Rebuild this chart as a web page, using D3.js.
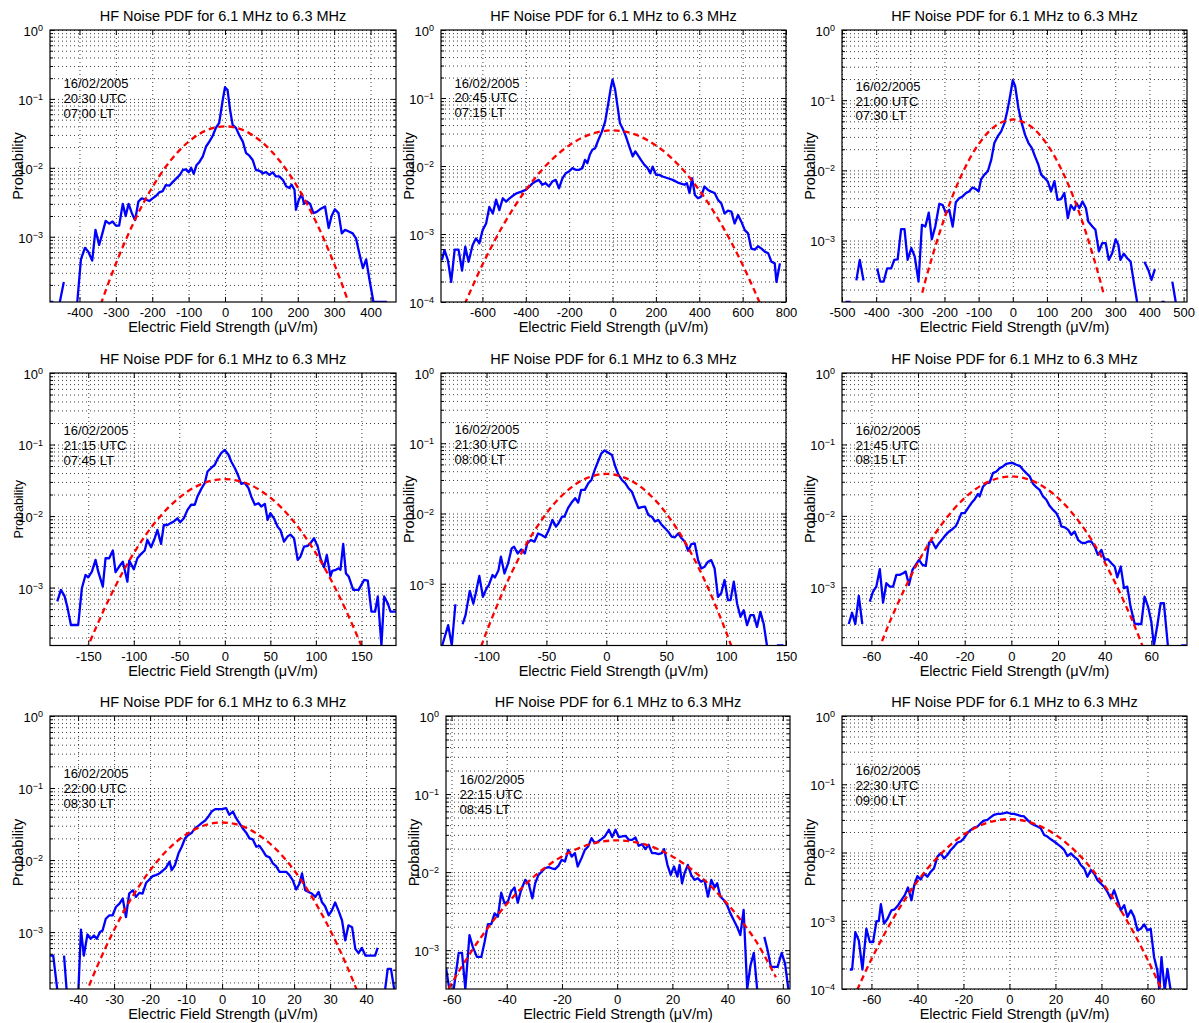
<!DOCTYPE html>
<html>
<head>
<meta charset="utf-8">
<script src="https://cdn.jsdelivr.net/npm/d3@7"></script>
<style>
  body { margin: 0; background: #fff; }
  svg text { font-family: "Liberation Sans", Arial, Helvetica, sans-serif; fill: #000; }
</style>
</head>
<body>
<svg id="fig" width="1199" height="1023"></svg>
<script>
// ---- Labels -------------------------------------------------------------
const chartTitle = "HF Noise PDF for 6.1 MHz to 6.3 MHz";
const xAxisLabel = "Electric Field Strength (\u03bcV/m)";
const yAxisLabel = "Probability";
const obsDate = "16/02/2005";
const utcTimes = ["20:30 UTC", "20:45 UTC", "21:00 UTC", "21:15 UTC", "21:30 UTC", "21:45 UTC", "22:00 UTC", "22:15 UTC", "22:30 UTC"];
const localTimes = ["07:00 LT", "07:15 LT", "07:30 LT", "07:45 LT", "08:00 LT", "08:15 LT", "08:30 LT", "08:45 LT", "09:00 LT"];

// ---- Axis limits and ticks (field strength in uV/m, probability) ---------
const xLimits = [[-481, 470], [-791, 800], [-500, 510], [-192, 188], [-138, 150], [-72.6, 75.3], [-47.8, 48.3], [-62, 62.6], [-72.8, 77.2]];
const yLowerLimits = [1.13e-4, 1e-4, 1.33e-4, 1.55e-4, 1.32e-4, 1.53e-4, 1.62e-4, 3.18e-4, 1e-4];
const xTickValues = [
  [-400, -300, -200, -100, 0, 100, 200, 300, 400],
  [-600, -400, -200, 0, 200, 400, 600, 800],
  [-500, -400, -300, -200, -100, 0, 100, 200, 300, 400, 500],
  [-150, -100, -50, 0, 50, 100, 150],
  [-100, -50, 0, 50, 100, 150],
  [-60, -40, -20, 0, 20, 40, 60],
  [-40, -30, -20, -10, 0, 10, 20, 30, 40],
  [-60, -40, -20, 0, 20, 40, 60],
  [-60, -40, -20, 0, 20, 40, 60]
];

// ---- Measured noise PDFs: [field strength, probability]; null = empty bin --
const pdf2030 = [[-481,1.13e-4],[-472,1.13e-4],[-463,null],[-454,1.13e-4],[-443,2.2e-4],[-434,null],[-425,null],[-415,null],[-406,1.13e-4],[-396,4.7e-4],[-385,6.9e-4],[-376,6.1e-4],[-365,4.5e-4],[-356,1.26e-3],[-346,7.6e-4],[-337,1.12e-3],[-328,1.7e-3],[-318,1.55e-3],[-309,1.66e-3],[-300,1.45e-3],[-291,1.45e-3],[-281,3.0e-3],[-273,2.0e-3],[-265,3.0e-3],[-256,2.2e-3],[-247,1.74e-3],[-238,3.25e-3],[-229,3.6e-3],[-220,3.5e-3],[-208,3.3e-3],[-199,3.6e-3],[-190,3.9e-3],[-181,4.4e-3],[-171,4.6e-3],[-163,5.6e-3],[-153,5.5e-3],[-144,6.2e-3],[-135,6.9e-3],[-124,7.9e-3],[-116,9.3e-3],[-107,9.5e-3],[-100,8.6e-3],[-93,1.0e-2],[-86,8.2e-3],[-78,1.1e-2],[-71,1.2e-2],[-61,1.47e-2],[-52,2.04e-2],[-43,2.4e-2],[-34,2.9e-2],[-25,3.8e-2],[-16,4.5e-2],[-6,9.8e-2],[0,0.148],[7,0.135],[14,6.9e-2],[21,4.2e-2],[30,3.8e-2],[39,3.0e-2],[49,2.4e-2],[58,1.63e-2],[67,1.5e-2],[76,1.3e-2],[85,9.3e-3],[94,9.1e-3],[104,8.3e-3],[113,8.7e-3],[122,7.9e-3],[131,8.6e-3],[140,7.5e-3],[149,7.5e-3],[159,6.7e-3],[168,5.4e-3],[177,5.1e-3],[183,5.7e-3],[191,4.8e-3],[195,2.46e-3],[203,3.45e-3],[211,4.2e-3],[217,3.0e-3],[225,3.25e-3],[234,3.0e-3],[243,2.2e-3],[252,2.3e-3],[261,2.5e-3],[275,2.75e-3],[285,1.34e-3],[293,2.0e-3],[302,2.5e-3],[312,2.2e-3],[321,1.12e-3],[330,1.26e-3],[339,1.2e-3],[351,1.12e-3],[360,9.5e-4],[369,5.8e-4],[379,3.5e-4],[388,4.7e-4],[397,2.4e-4],[408,1.13e-4],[417,1.13e-4],[426,1.13e-4],[435,1.13e-4],[445,1.13e-4]];

const pdf2045 = [[-787,4.1e-4],[-775,5.8e-4],[-759,4.1e-4],[-744,1.97e-4],[-728,5.9e-4],[-710,5.9e-4],[-694,2.9e-4],[-679,6.5e-4],[-664,3.9e-4],[-645,6.9e-4],[-630,8.6e-4],[-614,7.3e-4],[-599,1.14e-3],[-583,1.43e-3],[-568,2.5e-3],[-552,2.0e-3],[-537,3.2e-3],[-522,2.25e-3],[-506,3.35e-3],[-491,3.0e-3],[-475,3.35e-3],[-455,3.75e-3],[-440,4.0e-3],[-420,4.2e-3],[-401,4.45e-3],[-386,4.9e-3],[-370,5.5e-3],[-355,5.9e-3],[-340,6.25e-3],[-324,5.3e-3],[-309,5.6e-3],[-293,5.0e-3],[-278,5.9e-3],[-262,6.25e-3],[-247,4.7e-3],[-231,6.6e-3],[-216,7.8e-3],[-201,8.3e-3],[-185,9.3e-3],[-170,8.8e-3],[-154,8.8e-3],[-139,9.3e-3],[-127,1.23e-2],[-116,1.1e-2],[-105,1.46e-2],[-93,1.73e-2],[-80,1.83e-2],[-65,2.43e-2],[-49,3.2e-2],[-34,4.5e-2],[-19,8.5e-2],[-8,0.141],[0,0.187],[12,0.133],[23,7.6e-2],[34,4.3e-2],[46,3.6e-2],[62,2.7e-2],[77,1.94e-2],[93,1.38e-2],[105,1.64e-2],[116,1.46e-2],[131,1.23e-2],[147,1.04e-2],[162,9.3e-3],[174,7.8e-3],[185,9.8e-3],[201,7.4e-3],[216,7.4e-3],[231,7.0e-3],[255,6.6e-3],[278,6.25e-3],[301,5.7e-3],[316,5.5e-3],[332,5.3e-3],[343,5.6e-3],[355,4.0e-3],[367,6.6e-3],[380,3.75e-3],[394,3.35e-3],[409,3.55e-3],[424,5.0e-3],[440,4.45e-3],[455,4.2e-3],[471,4.0e-3],[486,3.2e-3],[502,2.8e-3],[517,2.0e-3],[532,2.2e-3],[548,2.13e-3],[563,1.43e-3],[579,1.9e-3],[594,1.52e-3],[610,1.14e-3],[625,1.02e-3],[640,6.1e-4],[656,5.9e-4],[671,6.6e-4],[687,6.1e-4],[702,5.5e-4],[718,5.2e-4],[733,3.9e-4],[748,3.7e-4],[756,1.97e-4],[772,3.7e-4]];

const pdf2100 = [[-490,1.33e-4],[-475,1.33e-4],[-466,null],[-458,2.7e-4],[-448,5.3e-4],[-437,2.7e-4],[-427,null],[-417,null],[-407,null],[-397,4.0e-4],[-388,2.6e-4],[-378,2.6e-4],[-368,4.0e-4],[-356,4.0e-4],[-347,5.3e-4],[-337,5.4e-4],[-327,1.45e-3],[-317,1.45e-3],[-308,5.3e-4],[-297,7.8e-4],[-287,5.9e-4],[-276,2.6e-4],[-266,1.67e-3],[-256,1.58e-3],[-246,2.5e-3],[-237,1.04e-3],[-227,1.58e-3],[-215,3.34e-3],[-205,3.2e-3],[-196,2.46e-3],[-186,2.74e-3],[-176,1.58e-3],[-167,3.5e-3],[-157,4.0e-3],[-147,4.25e-3],[-137,4.75e-3],[-128,5.0e-3],[-118,5.7e-3],[-108,5.4e-3],[-100,5.0e-3],[-93,7.4e-3],[-83,8.7e-3],[-73,9.7e-3],[-63,1.42e-2],[-54,2.45e-2],[-44,3.06e-2],[-34,3.6e-2],[-24,4.75e-2],[-15,7.4e-2],[-8,0.114],[0,0.193],[7,0.158],[17,7.4e-2],[26,4.75e-2],[36,3.2e-2],[46,2.45e-2],[56,2.08e-2],[65,1.58e-2],[75,1.2e-2],[83,8.7e-3],[93,7.8e-3],[102,7.0e-3],[112,5.0e-3],[122,7.0e-3],[131,3.8e-3],[141,3.9e-3],[151,4.75e-3],[161,2.08e-3],[170,3.2e-3],[180,2.74e-3],[187,3.4e-3],[195,2.9e-3],[204,3.6e-3],[214,2.9e-3],[221,1.87e-3],[233,1.58e-3],[242,1.42e-3],[252,7.0e-4],[262,9.2e-4],[272,9.2e-4],[281,5.3e-4],[291,6.6e-4],[301,1.04e-3],[309,8.7e-4],[315,5.3e-4],[325,6.5e-4],[335,5.6e-4],[345,5.0e-4],[354,2.6e-4],[364,1.33e-4],[374,null],[385,5.0e-4],[396,3.9e-4],[406,2.74e-4],[416,3.9e-4],[426,null],[435,1.33e-4],[445,1.33e-4],[456,null],[467,2.6e-4],[477,1.33e-4]];

const pdf2115 = [[-184,6.4e-4],[-180,9.3e-4],[-176,7.6e-4],[-173,5.4e-4],[-169,3.0e-4],[-165,3.0e-4],[-161,3.0e-4],[-157,9.8e-4],[-153,1.5e-3],[-150,1.39e-3],[-146,1.67e-3],[-142,2.44e-3],[-139,1.67e-3],[-134,1.03e-3],[-131,2.57e-3],[-127,2.57e-3],[-123,3.3e-3],[-120,1.64e-3],[-116,1.97e-3],[-112,2.3e-3],[-107,1.21e-3],[-105,2.38e-3],[-100,1.8e-3],[-96,2.57e-3],[-93,2.86e-3],[-88,3.3e-3],[-85,4.64e-3],[-81,3.66e-3],[-77,4.9e-3],[-74,6.4e-3],[-70,4.08e-3],[-67,7.5e-3],[-63,7.5e-3],[-60,7.9e-3],[-56,8.4e-3],[-52,9.3e-3],[-49,8.2e-3],[-45,9.3e-3],[-41,1.22e-2],[-37,1.44e-2],[-33,1.44e-2],[-30,1.88e-2],[-26,2.38e-2],[-22,2.9e-2],[-19,4.2e-2],[-15,4.7e-2],[-11,5.2e-2],[-8,6.3e-2],[-4,7.6e-2],[0,8.4e-2],[4,7.2e-2],[7,5.8e-2],[11,4.7e-2],[15,3.6e-2],[18,2.82e-2],[22,2.9e-2],[26,2.46e-2],[29,1.88e-2],[33,1.44e-2],[37,1.51e-2],[40,1.36e-2],[44,1.48e-2],[47,8.85e-3],[50,1.1e-2],[54,9.3e-3],[58,7.1e-3],[61,6.4e-3],[65,4.4e-3],[69,5.2e-3],[72,5.5e-3],[76,4.9e-3],[80,2.44e-3],[83,2.7e-3],[87,3.74e-3],[91,3.83e-3],[94,4.17e-3],[98,4.9e-3],[102,3.74e-3],[105,2.57e-3],[109,1.92e-3],[112,2.86e-3],[116,1.43e-3],[118,1.71e-3],[122,1.77e-3],[125,1.86e-3],[127,1.77e-3],[130,4.08e-3],[133,1.58e-3],[136,1.43e-3],[141,9.3e-4],[147,9.3e-4],[153,1.28e-3],[157,1.25e-3],[161,4.6e-4],[165,4.6e-4],[168,7.5e-4],[172,1.55e-4],[175,7.5e-4],[179,6.0e-4],[182,4.6e-4],[188,4.6e-4]];

const pdf2130 = [[-137,1.32e-4],[-132,2.57e-4],[-129,1.32e-4],[-126,5.1e-4],[-123,null],[-120,2.65e-4],[-117.5,3.57e-4],[-114,7.9e-4],[-111,5.2e-4],[-109,7.3e-4],[-106,1.29e-3],[-103,6.5e-4],[-100,8.6e-4],[-98,9.6e-4],[-95,1.33e-3],[-93,1.23e-3],[-90,1.56e-3],[-88,2.43e-3],[-85,1.4e-3],[-82,1.95e-3],[-79,3.19e-3],[-77,3.37e-3],[-74,2.7e-3],[-71,3.08e-3],[-68,2.7e-3],[-66,3.76e-3],[-63,4.19e-3],[-60,3.97e-3],[-57,5.2e-3],[-54,4.94e-3],[-51,4.57e-3],[-48,5.8e-3],[-45,8.1e-3],[-42,6.5e-3],[-40,7.2e-3],[-37,9.0e-3],[-35,9.0e-3],[-32,1.19e-2],[-29,1.43e-2],[-26,1.65e-2],[-23.5,1.43e-2],[-21,2.17e-2],[-18,2.17e-2],[-15,2.7e-2],[-12.4,3.0e-2],[-9.7,4.18e-2],[-6.9,5.5e-2],[-4.1,7.2e-2],[-1.4,7.9e-2],[1.4,7.4e-2],[4.7,6.8e-2],[7.5,4.67e-2],[10.2,3.55e-2],[13,3.0e-2],[15.8,2.7e-2],[18.5,2.29e-2],[21.3,2.05e-2],[24,1.56e-2],[26.8,1.19e-2],[29.6,1.23e-2],[32.3,1.25e-2],[35.1,9.5e-3],[37.9,9.0e-3],[40.6,7.7e-3],[43.4,8.1e-3],[46.2,6.9e-3],[48.9,6.2e-3],[51.7,5.5e-3],[54.5,4.68e-3],[57.2,4.57e-3],[60,5.2e-3],[62.8,4.43e-3],[65.5,3.97e-3],[68.3,2.95e-3],[71,3.67e-3],[73.8,3.76e-3],[76.6,2.17e-3],[79.3,1.65e-3],[82.1,1.75e-3],[84.9,2.06e-3],[87.6,2.17e-3],[90.4,1.65e-3],[93.2,6.5e-4],[95.9,7.3e-4],[98.7,1.13e-3],[101.5,5.85e-4],[103.7,5.85e-4],[106.4,1.07e-3],[109.2,5.2e-4],[112,3.38e-4],[114.7,4.2e-4],[117.5,2.57e-4],[120.3,3.57e-4],[123,3.57e-4],[125.8,2.43e-4],[128.6,3.98e-4],[131.3,2.72e-4],[134.1,1.32e-4],[136.9,null],[139.6,null],[142.4,1.32e-4],[145.2,1.32e-4],[148,1.32e-4]];

const pdf2145 = [[-69.7,3.06e-4],[-68.3,4.4e-4],[-66.9,3.06e-4],[-65.4,7.6e-4],[-63.9,3.06e-4],[-62.3,null],[-60.7,6.3e-4],[-59.3,8.7e-4],[-57.9,1.02e-3],[-56.4,1.79e-3],[-55,6.1e-4],[-53.6,1.14e-3],[-52.1,1.02e-3],[-50.7,1.02e-3],[-49.3,1.49e-3],[-47.9,1.49e-3],[-46.4,1.57e-3],[-45.3,1.66e-3],[-43.9,1.08e-3],[-42.4,1.75e-3],[-41,2.06e-3],[-39.6,2.42e-3],[-38.1,2.06e-3],[-36.7,1.99e-3],[-35.3,4.23e-3],[-33.9,4.37e-3],[-32.4,3.52e-3],[-31,4.14e-3],[-29.6,4.71e-3],[-28.1,5.42e-3],[-26.7,6.03e-3],[-25.3,6.5e-3],[-23.9,7.1e-3],[-22.9,8.3e-3],[-21.4,1.09e-2],[-20,1.09e-2],[-18.6,1.28e-2],[-17.1,1.51e-2],[-15.7,1.71e-2],[-14.3,2.03e-2],[-13.6,1.87e-2],[-12.1,2.58e-2],[-10.7,2.87e-2],[-9.3,2.93e-2],[-7.9,3.96e-2],[-6.4,4.18e-2],[-5,4.66e-2],[-3.6,4.92e-2],[-2.1,5.36e-2],[-0.7,5.47e-2],[0.7,5.47e-2],[2.1,5.19e-2],[3.6,5.02e-2],[5,4.42e-2],[6.4,3.96e-2],[7.9,3.56e-2],[9.3,2.81e-2],[10.7,2.52e-2],[12.1,2.31e-2],[13.6,1.87e-2],[15,1.68e-2],[16.4,1.38e-2],[17.9,1.21e-2],[19.3,1.09e-2],[20.7,8.8e-3],[21.4,7.1e-3],[22.9,6.9e-3],[24.3,6.4e-3],[25.7,5.42e-3],[27.1,6.03e-3],[28.6,4.61e-3],[30,4.23e-3],[31.4,4.14e-3],[32.9,4.37e-3],[34.3,4.37e-3],[35.7,3.72e-3],[37.1,2.84e-3],[38.6,3.34e-3],[40,2.42e-3],[41.4,2.47e-3],[42.9,2.17e-3],[44.3,1.95e-3],[45.4,1.38e-3],[46.9,1.95e-3],[48.3,9.7e-4],[49.7,1.02e-3],[51.1,5.36e-4],[52.9,3.06e-4],[54.3,3.06e-4],[55.7,3.06e-4],[57.1,7.4e-4],[58.6,5.36e-4],[60,3.3e-4],[61.1,1.53e-4],[62.6,2.96e-4],[64,5.97e-4],[65.4,5.97e-4],[67.1,1.53e-4],[68.5,null],[70,null],[71.4,null],[72.8,1.53e-4],[75,1.53e-4]];

const pdf2200 = [[-47.8,4.72e-4],[-46.9,4.72e-4],[-45.8,1.62e-4],[-44.9,null],[-43.9,4.72e-4],[-43.2,1.62e-4],[-42,null],[-41,null],[-39.9,1.62e-4],[-39.2,1.08e-3],[-38.4,4.72e-4],[-37.4,9.3e-4],[-36.5,8.07e-4],[-35.6,8.98e-4],[-34.8,8.07e-4],[-33.9,1.0e-3],[-33.2,1.05e-3],[-32.3,1.53e-3],[-31.3,1.71e-3],[-30.4,1.71e-3],[-29.5,2.23e-3],[-28.5,2.48e-3],[-27.6,2.92e-3],[-26.7,1.62e-3],[-25.8,3.43e-3],[-24.8,3.81e-3],[-23.9,3.08e-3],[-23,3.5e-3],[-22.1,3.43e-3],[-21.1,4.83e-3],[-20.2,5.37e-3],[-19.3,5.98e-3],[-18.4,6.18e-3],[-17.4,6.52e-3],[-16.5,7.1e-3],[-15.6,7.8e-3],[-14.6,9.5e-3],[-14,7.25e-3],[-13.1,8.5e-3],[-12.1,1.24e-2],[-11.2,1.53e-2],[-10.3,2.0e-2],[-9.4,2.23e-2],[-8.4,2.4e-2],[-7.5,2.77e-2],[-6.6,2.98e-2],[-5.7,3.25e-2],[-4.7,3.54e-2],[-3.8,4.03e-2],[-2.9,4.72e-2],[-1.9,5.09e-2],[-1,5.09e-2],[-0.1,5.09e-2],[1.1,5.26e-2],[2,4.25e-2],[3,4.72e-2],[3.9,3.81e-2],[4.8,3.25e-2],[5.7,2.77e-2],[6.7,2.4e-2],[7.6,2.0e-2],[8.5,1.94e-2],[9.5,1.53e-2],[10.4,1.57e-2],[11.3,1.35e-2],[12.2,1.14e-2],[13.2,1.09e-2],[14.1,8.98e-3],[15,8.24e-3],[15.9,6.87e-3],[16.9,6.87e-3],[17.8,6.87e-3],[18.7,6.18e-3],[19.6,5.26e-3],[20.6,3.9e-3],[21.5,4.72e-3],[22.2,6.52e-3],[23.1,3.81e-3],[24,3.61e-3],[24.9,3.43e-3],[25.9,3.08e-3],[26.8,3.61e-3],[27.7,2.62e-3],[28.6,2.28e-3],[29.6,1.71e-3],[30.5,2.0e-3],[31.4,2.57e-3],[32.3,2.0e-3],[33.3,1.46e-3],[34.2,7.66e-4],[35.1,1.24e-3],[36.1,1.17e-3],[37,5.85e-4],[37.9,5.1e-4],[38.8,6.04e-4],[39.8,4.72e-4],[40.7,4.72e-4],[41.6,4.72e-4],[42.5,4.72e-4],[43.2,6.04e-4],[44.2,null],[45.3,1.62e-4],[46,3.08e-4],[46.9,3.08e-4],[47.8,1.62e-4]];

const pdf2215 = [[-62,5.98e-4],[-60.8,3.18e-4],[-60,null],[-59.2,3.18e-4],[-57.4,9.23e-4],[-56.2,9.23e-4],[-55,3.18e-4],[-53.5,1.56e-3],[-52.3,1.1e-3],[-50.8,8.2e-4],[-49.2,8.2e-4],[-48,1.28e-3],[-46.8,2.16e-3],[-45.6,2.16e-3],[-44.4,2.96e-3],[-43.2,2.68e-3],[-42,5.46e-3],[-40.8,3.98e-3],[-39.6,4.18e-3],[-38.4,5.62e-3],[-37.2,6.38e-3],[-36,4.06e-3],[-34.8,5.9e-3],[-33.3,7.94e-3],[-32.1,7.19e-3],[-30.7,4.61e-3],[-29.7,7.19e-3],[-28.5,9.2e-3],[-27.3,1.02e-2],[-26.1,1.12e-2],[-24.9,1.16e-2],[-23.7,1.12e-2],[-22.5,1.09e-2],[-21.3,1.2e-2],[-20.1,1.44e-2],[-18.9,1.37e-2],[-17.7,1.93e-2],[-16.5,1.58e-2],[-15.3,1.75e-2],[-14.3,1.18e-2],[-12.9,1.51e-2],[-11.7,1.93e-2],[-10.5,2.13e-2],[-9.3,2.72e-2],[-8.1,2.35e-2],[-6.9,2.47e-2],[-5.7,2.65e-2],[-4.5,2.86e-2],[-3,3.49e-2],[-1.8,2.81e-2],[-0.6,3.49e-2],[0.6,2.81e-2],[1.8,2.86e-2],[3,2.92e-2],[4.2,2.59e-2],[5.4,2.59e-2],[6.6,2.78e-2],[7.8,2.17e-2],[9,2.28e-2],[10.2,1.97e-2],[11.4,2.24e-2],[12.6,1.75e-2],[13.8,1.75e-2],[15,1.7e-2],[16.2,1.75e-2],[17,1.97e-2],[18.2,1.24e-2],[19.4,9.2e-3],[20.6,1.18e-2],[21.8,8.77e-3],[22.6,1.24e-2],[23.5,7.19e-3],[24.4,9.66e-3],[25.6,1.24e-2],[26.8,9.2e-3],[28,7.94e-3],[29.2,8.34e-3],[30.4,7.55e-3],[31.6,7.94e-3],[32.9,4.84e-3],[34.1,7.94e-3],[35.3,6.38e-3],[36.2,7.19e-3],[37.4,4.84e-3],[38.6,4.39e-3],[39.8,3.79e-3],[41,2.96e-3],[42.2,2.43e-3],[43.4,2.0e-3],[44.6,1.56e-3],[45.8,3.27e-3],[47.1,3.18e-4],[48.3,6.41e-4],[49.5,9.23e-4],[50.7,3.18e-4],[52,null],[53.3,1.48e-3],[54.5,1.0e-3],[55.7,6.1e-4],[56.9,6.1e-4],[58.1,6.1e-4],[59.6,9.23e-4],[60.8,6.73e-4],[62,3.18e-4]];

const pdf2230 = [[-69.4,1.93e-4],[-68.4,1.93e-4],[-67,6.8e-4],[-65.5,5.15e-4],[-63.9,1.93e-4],[-62.2,7.64e-4],[-60.7,4.87e-4],[-59.3,4.87e-4],[-57.8,9.9e-4],[-56.8,9.9e-4],[-55.9,1.75e-3],[-54.5,9.06e-4],[-53,1.07e-3],[-51.3,1.42e-3],[-49.9,1.47e-3],[-48.4,1.69e-3],[-47,2.0e-3],[-45.5,2.37e-3],[-44.1,3.07e-3],[-42.6,2.0e-3],[-41.4,3.32e-3],[-40,4.51e-3],[-38.6,4.03e-3],[-37.1,4.93e-3],[-35.7,4.41e-3],[-34.2,5.22e-3],[-32.8,5.85e-3],[-31.3,8.69e-3],[-29.9,9.72e-3],[-28.4,8.2e-3],[-27,9.19e-3],[-25.5,1.09e-2],[-24.1,1.22e-2],[-22.6,1.4e-2],[-21.2,1.45e-2],[-19.7,1.62e-2],[-18.3,1.92e-2],[-16.8,2.14e-2],[-15.4,2.32e-2],[-13.9,2.4e-2],[-12.5,2.69e-2],[-11,2.94e-2],[-9.6,3.01e-2],[-8.1,3.3e-2],[-6.7,3.57e-2],[-5.2,3.69e-2],[-3.8,3.69e-2],[-2.3,3.77e-2],[-0.9,3.86e-2],[0.6,3.69e-2],[2,3.69e-2],[3.5,3.57e-2],[4.9,3.45e-2],[6.4,3.37e-2],[7.8,3.01e-2],[9.3,2.69e-2],[10.7,2.54e-2],[12.2,2.4e-2],[13.6,2.27e-2],[15.1,1.81e-2],[16.5,1.71e-2],[18,1.56e-2],[19.4,1.45e-2],[20.9,1.33e-2],[22.3,1.22e-2],[23.8,1.09e-2],[25.2,8.87e-3],[26.7,9.72e-3],[28.1,8.69e-3],[29.6,7.93e-3],[31,6.55e-3],[32.5,5.85e-3],[33.9,4.41e-3],[35.4,5.52e-3],[36.8,4.93e-3],[38.3,3.94e-3],[39.7,3.52e-3],[41.2,3.14e-3],[42.6,2.65e-3],[44.1,2.11e-3],[45.5,2.8e-3],[47,2.0e-3],[48.4,1.42e-3],[49.9,1.69e-3],[51.3,1.14e-3],[52.8,1.42e-3],[54.2,1.14e-3],[55.7,7.22e-4],[57.1,7.64e-4],[58.6,8.85e-4],[60,7.22e-4],[61.4,7.64e-4],[62.9,2.92e-4],[64.3,1.86e-4],[65.2,9.5e-5],[66.1,2.92e-4],[67.5,9.5e-5],[68.7,1.97e-4],[70.1,9.5e-5]];

// ---- Gaussian fits, sampled: [field strength, probability] ---------------
const fit2030 = [[-350,7.7e-5],[-340,1.1e-4],[-300,4.06e-4],[-250,1.65e-3],[-200,5.2e-3],[-150,1.27e-2],[-100,2.4e-2],[-50,3.52e-2],[0,4.0e-2],[50,3.52e-2],[100,2.4e-2],[150,1.27e-2],[200,5.2e-3],[250,1.65e-3],[300,4.06e-4],[340,1.1e-4],[350,7.7e-5]];
const fit2045 = [[-700,6.8e-5],[-600,3.53e-4],[-500,1.42e-3],[-400,4.42e-3],[-300,1.07e-2],[-200,2.01e-2],[-100,2.94e-2],[0,3.34e-2],[100,2.94e-2],[200,2.01e-2],[300,1.07e-2],[400,4.42e-3],[500,1.42e-3],[600,3.53e-4],[700,6.8e-5]];
const fit2100 = [[-265,1.8e-4],[-250,3.4e-4],[-200,2.09e-3],[-150,8.6e-3],[-100,2.36e-2],[-50,4.33e-2],[0,5.3e-2],[50,4.33e-2],[100,2.36e-2],[150,8.6e-3],[200,2.09e-3],[250,3.4e-4],[265,1.8e-4]];
const fit2115 = [[-160,7.3e-5],[-150,1.54e-4],[-125,7.9e-4],[-100,3.03e-3],[-75,8.6e-3],[-50,1.81e-2],[-25,2.83e-2],[0,3.28e-2],[25,2.83e-2],[50,1.81e-2],[75,8.6e-3],[100,3.03e-3],[125,7.9e-4],[150,1.54e-4],[160,7.3e-5]];
const fit2130 = [[-110,6.9e-5],[-100,2.06e-4],[-80,1.33e-3],[-60,5.68e-3],[-40,1.6e-2],[-20,2.98e-2],[0,3.66e-2],[20,2.98e-2],[40,1.6e-2],[60,5.68e-3],[80,1.33e-3],[100,2.06e-4],[110,6.9e-5]];
const fit2145 = [[-60,7.1e-5],[-55,1.91e-4],[-50,4.74e-4],[-40,2.24e-3],[-30,7.5e-3],[-20,1.78e-2],[-10,2.99e-2],[0,3.56e-2],[10,2.99e-2],[20,1.78e-2],[30,7.5e-3],[40,2.24e-3],[50,4.74e-4],[55,1.91e-4],[60,7.1e-5]];
const fit2200 = [[-40,7.4e-5],[-35,3.08e-4],[-30,1.07e-3],[-25,3.05e-3],[-20,7.2e-3],[-15,1.41e-2],[-10,2.26e-2],[-5,3.02e-2],[0,3.32e-2],[5,3.02e-2],[10,2.26e-2],[15,1.41e-2],[20,7.2e-3],[25,3.05e-3],[30,1.07e-3],[35,3.08e-4],[40,7.4e-5]];
const fit2215 = [[-61,3.22e-4],[-58,4.9e-4],[-50,1.35e-3],[-40,3.89e-3],[-30,8.85e-3],[-20,1.59e-2],[-10,2.26e-2],[0,2.55e-2],[10,2.26e-2],[20,1.59e-2],[30,8.85e-3],[40,3.89e-3],[50,1.35e-3],[57.5,4.5e-4]];
const fit2230 = [[-68,7.1e-5],[-60,2.73e-4],[-50,1.16e-3],[-40,3.77e-3],[-30,9.44e-3],[-20,1.82e-2],[-10,2.7e-2],[0,3.08e-2],[10,2.7e-2],[20,1.82e-2],[30,9.44e-3],[40,3.77e-3],[50,1.16e-3],[60,2.73e-4],[68,7.1e-5]];

const measuredSeries = [pdf2030, pdf2045, pdf2100, pdf2115, pdf2130, pdf2145, pdf2200, pdf2215, pdf2230];
const fittedSeries = [fit2030, fit2045, fit2100, fit2115, fit2130, fit2145, fit2200, fit2215, fit2230];

// ---- Layout: plot box [left, top, right, bottom] of each subplot ----------
const panelBoxes = [
  [50, 30, 396, 302], [441, 30, 786, 302], [842, 30, 1187, 302],
  [50, 373, 396, 645.5], [441, 373, 786, 645.5], [842, 373, 1187, 645.5],
  [50, 716, 396, 989], [446, 716, 790, 989], [842, 716, 1187, 989]
];
const noteOffsets = [53.3, 52.8, 56, 57.7, 56.3, 57, 57.7, 63.7, 54.7];
const ylabelSizes = [14.5, 14.5, 14.5, 12.5, 14.5, 14.5, 14.5, 14.5, 14.5];
const FONT = '"Liberation Sans", Arial, Helvetica, sans-serif';

const svg = d3.select("#fig");
svg.append("rect").attr("width", 1199).attr("height", 1023).attr("fill", "#fff");

function decades(lo, hi) {
  const out = [];
  for (let e = Math.ceil(Math.log10(lo) - 1e-9); e <= Math.floor(Math.log10(hi) + 1e-9); e++) out.push(Math.pow(10, e));
  return out;
}
function minorSteps(lo, hi) {
  const out = [];
  for (let e = Math.floor(Math.log10(lo)); e < Math.ceil(Math.log10(hi)); e++) {
    for (let m = 2; m <= 9; m++) {
      const v = m * Math.pow(10, e);
      if (v >= lo && v <= hi) out.push(v);
    }
  }
  return out;
}
function styleAxis(sel) {
  sel.select(".domain").remove();
  sel.selectAll("line").attr("stroke", "#000").attr("stroke-width", 1);
  sel.attr("font-family", FONT);
}

function drawPanel(i) {
  const [left, top, right, bottom] = panelBoxes[i];
  const w = right - left, h = bottom - top;
  const x = d3.scaleLinear().domain(xLimits[i]).range([0, w]);
  const y = d3.scaleLog().domain([yLowerLimits[i], 1]).range([h, 0]);
  const g = svg.append("g").attr("transform", `translate(${left},${top})`);

  const clipId = "plotclip" + i;
  g.append("clipPath").attr("id", clipId).append("rect").attr("width", w).attr("height", h);

  const xt = xTickValues[i].filter(v => v >= xLimits[i][0] - 1e-6 && v <= xLimits[i][1] + 1e-6);
  const yMajor = decades(yLowerLimits[i], 1);
  const yMinor = minorSteps(yLowerLimits[i], 1);

  // dotted grid
  const gridH = g.append("g")
    .call(d3.axisLeft(y).tickValues(yMajor.concat(yMinor)).tickSize(-w).tickFormat(""));
  gridH.select(".domain").remove();
  gridH.selectAll("line").attr("stroke", "#000").attr("stroke-width", 0.75).attr("stroke-dasharray", "1,3");
  const gridV = g.append("g")
    .call(d3.axisTop(x).tickValues(xt).tickSize(-h).tickFormat(""));
  gridV.select(".domain").remove();
  gridV.selectAll("line").attr("stroke", "#000").attr("stroke-width", 0.75).attr("stroke-dasharray", "1,3");

  // measured PDF
  const measuredLine = d3.line()
    .defined(d => d[1] != null)
    .x(d => x(d[0]))
    .y(d => y(d[1]));
  g.append("path")
    .datum(measuredSeries[i])
    .attr("clip-path", `url(#${clipId})`)
    .attr("fill", "none")
    .attr("stroke", "#0000ff")
    .attr("stroke-width", 2.3)
    .attr("stroke-linejoin", "round")
    .attr("d", measuredLine);

  // Gaussian fit
  const fitLine = d3.line()
    .x(d => x(d[0]))
    .y(d => y(d[1]))
    .curve(d3.curveCatmullRom.alpha(0.5));
  g.append("path")
    .datum(fittedSeries[i])
    .attr("clip-path", `url(#${clipId})`)
    .attr("fill", "none")
    .attr("stroke", "#ff0000")
    .attr("stroke-width", 2.3)
    .attr("stroke-dasharray", "6,4")
    .attr("d", fitLine);

  // x axes (inward ticks, bottom labelled)
  const xb = g.append("g").attr("transform", `translate(0,${h})`)
    .call(d3.axisBottom(x).tickValues(xt).tickSize(-5).tickPadding(6).tickFormat(d => String(d)));
  styleAxis(xb);
  xb.selectAll("text").attr("font-size", 13).attr("fill", "#000");
  const xtop = g.append("g").call(d3.axisTop(x).tickValues(xt).tickSize(-5).tickFormat(""));
  styleAxis(xtop);

  // y axes (log, decade labels as powers of ten)
  const yl = g.append("g")
    .call(d3.axisLeft(y).tickValues(yMajor).tickSize(-5).tickPadding(7).tickFormat(() => "10"));
  styleAxis(yl);
  yl.selectAll(".tick text")
    .attr("font-size", 13)
    .attr("fill", "#000")
    .attr("dy", "0.42em")
    .append("tspan")
    .attr("dy", "-0.55em")
    .attr("font-size", 9)
    .text(d => {
      const e = Math.round(Math.log10(d));
      return e < 0 ? "\u2212" + Math.abs(e) : String(e);
    });
  const ylm = g.append("g").call(d3.axisLeft(y).tickValues(yMinor).tickSize(-3).tickFormat(""));
  styleAxis(ylm);
  const yr = g.append("g").attr("transform", `translate(${w},0)`)
    .call(d3.axisRight(y).tickValues(yMajor).tickSize(-5).tickFormat(""));
  styleAxis(yr);
  const yrm = g.append("g").attr("transform", `translate(${w},0)`)
    .call(d3.axisRight(y).tickValues(yMinor).tickSize(-3).tickFormat(""));
  styleAxis(yrm);

  // frame
  g.append("rect").attr("width", w).attr("height", h)
    .attr("fill", "none").attr("stroke", "#000").attr("stroke-width", 1.2);

  // titles
  g.append("text").attr("x", w / 2).attr("y", -9)
    .attr("text-anchor", "middle").attr("font-size", 14.5).text(chartTitle);
  g.append("text").attr("x", w / 2).attr("y", h + 30)
    .attr("text-anchor", "middle").attr("font-size", 14.5).text(xAxisLabel);
  g.append("text")
    .attr("transform", `translate(${-27},${h / 2}) rotate(-90)`)
    .attr("text-anchor", "middle").attr("font-size", ylabelSizes[i]).text(yAxisLabel);

  // observation time note
  const note = g.append("text").attr("font-size", 13);
  [obsDate, utcTimes[i], localTimes[i]].forEach((s, k) => {
    note.append("tspan").attr("x", 13.5).attr("y", noteOffsets[i] + 4.7 + k * 14.8).text(s);
  });
}

for (let i = 0; i < 9; i++) drawPanel(i);
</script>
</body>
</html>
